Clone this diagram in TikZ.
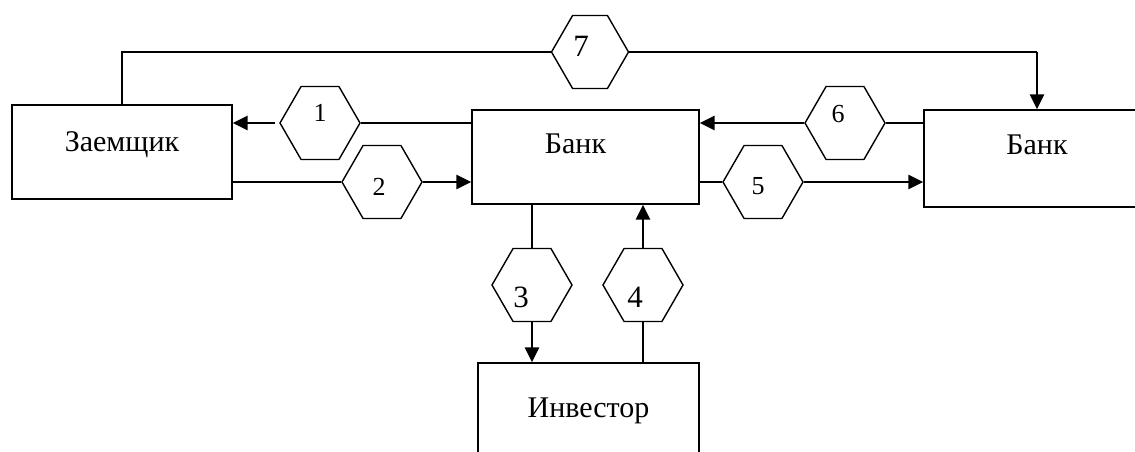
\documentclass[tikz,border=0pt]{standalone}
\usepackage{fontspec}
\setmainfont{Liberation Serif}
\usetikzlibrary{arrows.meta,shapes.symbols}

\begin{document}
\begin{tikzpicture}[x=1pt,y=-1pt,
  box/.style={draw, line width=1.4pt, rectangle, inner sep=0pt},
  hexa/.style={draw, line width=1.4pt, shape=signal, signal to=east and west,
    signal pointer angle=120, minimum width=80pt, minimum height=73pt, inner sep=0pt},
  word/.style={font=\fontsize{30}{32}\selectfont, text height=0.66em, text depth=0pt, inner sep=0pt},
  digit/.style={font=\fontsize{26}{28}\selectfont, text height=0.68em, text depth=0pt, inner sep=0pt},
  bigdigit/.style={digit, font=\fontsize{31}{33}\selectfont},
  link/.style={line width=1.3pt},
  flow/.style={line width=2.8pt, -{Triangle[length=15pt,width=14pt]}},
]
\useasboundingbox (0,0) rectangle (1135,452);
\clip (0,0) rectangle (1135,452);

% participants
\node[box, minimum width=220pt, minimum height=94pt,
      label={[word,yshift=4pt]center:Заемщик}] (borrower) at (122,152) {};
\node[box, minimum width=227pt, minimum height=94pt,
      label={[word,xshift=-10pt,yshift=7pt]center:Банк}] (bank) at (585.5,157) {};
\node[box, minimum width=226pt, minimum height=97pt,
      label={[word,yshift=7.5pt]center:Банк}] (rbank) at (1037,158.5) {};
\node[box, minimum width=221pt, minimum height=112pt,
      label={[word,yshift=5pt]center:Инвестор}] (investor) at (588.5,419) {};

% numbered steps
\node[hexa, label={[digit,yshift=5pt]center:1}] (h1) at (320,123) {};
\node[hexa, label={[digit,xshift=-3pt,yshift=-10pt]center:2}] (h2) at (382,182) {};
\node[hexa, label={[bigdigit,xshift=-11pt,yshift=-19.5pt]center:3}] (h3) at (532,285) {};
\node[hexa, label={[bigdigit,xshift=-8pt,yshift=-19.5pt]center:4}] (h4) at (643,285) {};
\node[hexa, label={[digit,xshift=-5pt,yshift=-9pt]center:5}] (h5) at (763,182) {};
\node[hexa, label={[digit,xshift=-7pt,yshift=4pt]center:6}] (h6) at (845,123) {};
\node[hexa, minimum width=77pt, label={[bigdigit,xshift=-9pt,yshift=-1pt]center:7}] (h7) at (590,52) {};

% 1: bank -> borrower
\draw[link] (h1.east) -- (h1.east -| bank.west);
\draw[flow, shorten <=4pt] (h1.west) -- (h1.west -| borrower.east);
% 2: borrower -> bank
\draw[link] (h2.west -| borrower.east) -- (h2.west);
\draw[flow] (h2.east) -- (h2.east -| bank.west);
% 3: bank -> investor
\draw[link] (h3.north |- bank.south) -- (h3.north);
\draw[flow] (h3.south) -- (h3.south |- investor.north);
% 4: investor -> bank
\draw[link] (h4.south |- investor.north) -- (h4.south);
\draw[flow] (h4.north) -- (h4.north |- bank.south);
% 5: bank -> second bank
\draw[link] (h5.west -| bank.east) -- (h5.west);
\draw[flow] (h5.east) -- (h5.east -| rbank.west);
% 6: second bank -> bank
\draw[link] (h6.east) -- (h6.east -| rbank.west);
\draw[flow] (h6.west) -- (h6.west -| bank.east);
% 7: borrower -> second bank, over the top
\coordinate (c7) at (rbank.north |- h7.east);
\draw[link] (borrower.north) |- (h7.west);
\draw[link] (h7.east) -- (c7);
\draw[flow] (c7) -- (rbank.north);
\end{tikzpicture}
\end{document}
